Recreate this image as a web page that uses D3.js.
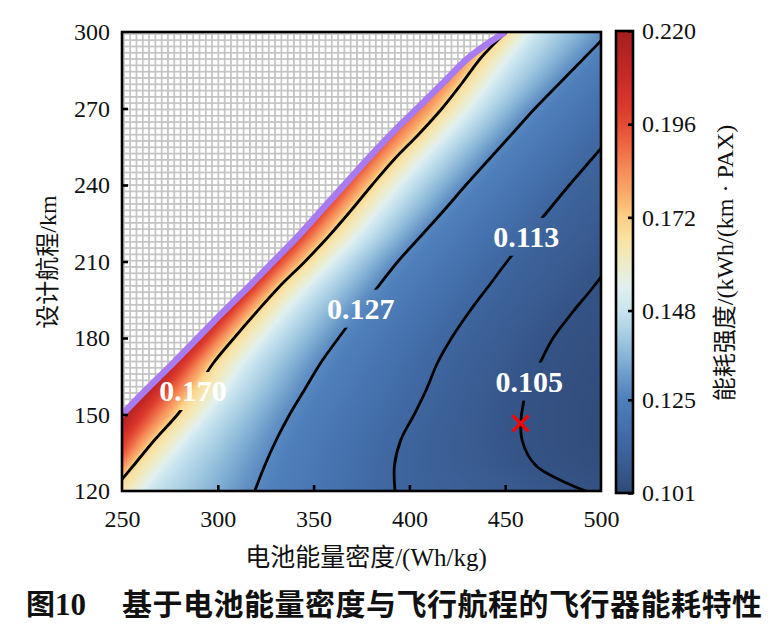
<!DOCTYPE html>
<html><head><meta charset="utf-8">
<script src="https://cdn.jsdelivr.net/npm/d3@7/dist/d3.min.js"></script>
<style>body{margin:0;background:#fff}svg{display:block}</style>
</head><body>
<svg id="chart" width="769" height="638"></svg>
<script>
// ---------------- data ----------------
const batteryTicks = [250, 300, 350, 400, 450, 500];
const rangeTicks = [120, 150, 180, 210, 240, 270, 300];
const colorbarTicks = [0.101, 0.125, 0.148, 0.172, 0.196, 0.220];
const colorbarTickLabels = ["0.101", "0.125", "0.148", "0.172", "0.196", "0.220"];

// design range rows (km) at which the iso-lines were read
const rangeRows = [120,130,140,150,160,170,180,190,200,210,220,230,240,250,260,270,280,290,300];
// feasibility limit (purple line), battery energy density Wh/kg
const limitX = [211,224,237,250,263,276.5,289.5,302.5,316,329,342,354,366,378,390.5,404,417.5,431,450];
// energy intensity on the limit line
const limitValue = [0.26,0.25,0.228,0.219,0.216,0.213,0.210,0.208,0.206,0.204,0.202,0.200,0.198,0.196,0.193,0.190,0.186,0.180,0.172];
// positions of iso-values per row
const level170X = [245,256,267,279,289,297.5,308.5,320,332,345.5,358,369.5,380.5,392,405,417,427.5,437.5,450.5];
const level148X = [266,277,288,299,309,318,329,340,352,365,378,389,400,412,424.5,436.5,447,457,467];
const level127X = [319.3,324.5,330.5,337.5,345.5,353.5,363,373,383.5,394,406,418,429.5,441.5,453.5,465.5,478.5,491.5,504.5];
const level113X = [392.5,392.2,395.5,402.5,409,414.5,422,431,441,451,461.5,472.5,483.5,495,506.5,518,529.5,541,552.5];
const level105X = [492,466,458.8,458.5,461.5,468,475,485,496,506,517,527,537.5,548,558.5,569,579.5,590,600.5];
const level100X = [560,540,530,530,534,540,550,562,574,586,598,610,622,634,646,658,670,682,694];

const contourLabelText = ["0.170", "0.127", "0.113", "0.105"];
const contourLabelX = [287, 374.6, 461, 462.5];
const contourLabelR = [159.2, 191.5, 219.7, 162.9];
const optimumPoint = [458, 146.5];

const colorStopValues = [0.101,0.110,0.118,0.125,0.130,0.136,0.142,0.148,0.154,0.160,0.166,0.172,0.178,0.184,0.190,0.196,0.200,0.208,0.220];
const colorStopColors = ["#2f4a78","#3b5f96","#4470ac","#4f7fba","#6595c6","#86b3d6","#a8cee3","#c9e4ef","#e0f0ef","#eeecc9","#f8e3a6","#fcd086","#f9ab6a","#f68d5a","#ef6a45","#e34c35","#db3a2c","#c82a26","#a31f1f"];

// ---------------- layout ----------------
const svg = d3.select("#chart");
const L = 122, R = 601, T = 32, B = 491;
const x = d3.scaleLinear().domain([250, 500]).range([L, R]);
const y = d3.scaleLinear().domain([120, 300]).range([B, T]);
const color = d3.scaleLinear().domain(colorStopValues).range(colorStopColors).interpolate(d3.interpolateRgb).clamp(true);
const serif = "'Liberation Serif','Times New Roman','Noto Sans CJK SC',serif";

const defs = svg.append("defs");
const cell = 6.3, lw = 1.7;
const pat = defs.append("pattern").attr("id", "hatch").attr("patternUnits", "userSpaceOnUse")
  .attr("width", cell).attr("height", cell).attr("x", L + 1).attr("y", T + 1);
pat.append("rect").attr("width", cell).attr("height", cell).attr("fill", "#c3c3c3");
pat.append("rect").attr("x", lw).attr("y", lw).attr("width", cell - lw).attr("height", cell - lw).attr("fill", "#fff");

defs.append("clipPath").attr("id", "plotClip").append("rect")
  .attr("x", L).attr("y", T).attr("width", R - L).attr("height", B - T);

const curve = d3.curveCatmullRom.alpha(0.5);
const lineGen = d3.line().x(d => x(d[0])).y(d => y(d[1])).curve(curve);
const limitPts = rangeRows.map((r, i) => [limitX[i], r]);
const feasiblePath = lineGen(limitPts) + "L" + x(540) + "," + y(300) + "L" + x(540) + "," + y(110) + "L" + x(limitX[0]) + "," + y(110) + "Z";
defs.append("clipPath").attr("id", "feasClip").append("path").attr("d", feasiblePath);

// ---------------- field ----------------
const levelSets = [
  {xs: limitX, v: limitValue},
  {xs: level170X, v: 0.170},
  {xs: level148X, v: 0.148},
  {xs: level127X, v: 0.127},
  {xs: level113X, v: 0.113},
  {xs: level105X, v: 0.105},
  {xs: level100X, v: 0.100}
];
function fieldAt(xv, rv) {
  let i = d3.bisectRight(rangeRows, rv) - 1;
  i = Math.max(0, Math.min(rangeRows.length - 2, i));
  const t = (rv - rangeRows[i]) / (rangeRows[i + 1] - rangeRows[i]);
  const ks = levelSets.map(S => ({
    x: S.xs[i] + (S.xs[i + 1] - S.xs[i]) * t,
    v: Array.isArray(S.v) ? S.v[i] + (S.v[i + 1] - S.v[i]) * t : S.v
  }));
  if (xv <= ks[0].x) return ks[0].v;
  for (let k = 0; k < ks.length - 1; k++) {
    if (xv <= ks[k + 1].x) {
      const u = (xv - ks[k].x) / (ks[k + 1].x - ks[k].x);
      return ks[k].v + (ks[k + 1].v - ks[k].v) * u;
    }
  }
  return ks[ks.length - 1].v;
}
const W = R - L, H = B - T;
const canvas = document.createElement("canvas");
canvas.width = W; canvas.height = H;
const ctx = canvas.getContext("2d");
const img = ctx.createImageData(W, H);
for (let py = 0; py < H; py++) {
  const rv = y.invert(T + py + 0.5);
  for (let px = 0; px < W; px++) {
    const xv = x.invert(L + px + 0.5);
    const c = d3.rgb(color(fieldAt(xv, rv)));
    const o = (py * W + px) * 4;
    img.data[o] = c.r; img.data[o + 1] = c.g; img.data[o + 2] = c.b; img.data[o + 3] = 255;
  }
}
ctx.putImageData(img, 0, 0);

// hatch background
svg.append("rect").attr("x", L).attr("y", T).attr("width", W).attr("height", H).attr("fill", "url(#hatch)")
  .attr("shape-rendering", "crispEdges");
// heat map
svg.append("g").attr("clip-path", "url(#plotClip)")
  .append("image").attr("x", L).attr("y", T).attr("width", W).attr("height", H)
  .attr("href", canvas.toDataURL()).attr("clip-path", "url(#feasClip)").attr("preserveAspectRatio", "none");

// label mask for contour lines
const mask = defs.append("mask").attr("id", "labelMask").attr("maskUnits", "userSpaceOnUse")
  .attr("x", 0).attr("y", 0).attr("width", 769).attr("height", 638);
mask.append("rect").attr("width", 769).attr("height", 638).attr("fill", "#fff");
contourLabelText.forEach((t, i) => {
  mask.append("rect").attr("x", x(contourLabelX[i]) - 37).attr("y", y(contourLabelR[i]) - 19)
    .attr("width", 74).attr("height", 38).attr("fill", "#000");
});

const contourSets = [level170X, level127X, level113X, level105X];
const cg = svg.append("g").attr("clip-path", "url(#plotClip)").append("g").attr("mask", "url(#labelMask)");
contourSets.forEach((xs, k) => {
  const g = k === 0 ? cg.append("g").attr("clip-path", "url(#feasClip)") : cg;
  g.append("path").attr("d", lineGen(rangeRows.map((r, i) => [xs[i], r])))
    .attr("fill", "none").attr("stroke", "#000").attr("stroke-width", 2.8);
});

// feasibility limit line
svg.append("g").attr("clip-path", "url(#plotClip)").append("path").attr("d", lineGen(limitPts))
  .attr("fill", "none").attr("stroke", "#a87cf0").attr("stroke-width", 6.5);

// contour labels
contourLabelText.forEach((t, i) => {
  svg.append("text").attr("x", x(contourLabelX[i])).attr("y", y(contourLabelR[i]) + 10)
    .attr("text-anchor", "middle").attr("font-family", serif).attr("font-weight", "bold")
    .attr("font-size", 30).attr("fill", "#fff").text(t);
});

// optimum marker
const ox = x(optimumPoint[0]), oy = y(optimumPoint[1]), s = 8;
svg.append("path").attr("d", `M${ox - s},${oy - s}L${ox + s},${oy + s}M${ox - s},${oy + s}L${ox + s},${oy - s}`)
  .attr("stroke", "#ff0000").attr("stroke-width", 3.2).attr("fill", "none");

// axes
const xAxis = d3.axisBottom(x).tickValues(batteryTicks).tickSizeInner(-6).tickSizeOuter(0).tickPadding(19).tickFormat(d3.format("d"));
const yAxis = d3.axisLeft(y).tickValues(rangeTicks).tickSizeInner(-6).tickSizeOuter(0).tickPadding(12).tickFormat(d3.format("d"));
const gx = svg.append("g").attr("transform", `translate(0,${B})`).call(xAxis);
const gy = svg.append("g").attr("transform", `translate(${L},0)`).call(yAxis);
[gx, gy].forEach(g => {
  g.select(".domain").remove();
  g.selectAll(".tick line").attr("stroke", "#000").attr("stroke-width", 2.6);
  g.selectAll(".tick text").attr("font-family", serif).attr("font-size", 24).attr("fill", "#111");
});
gx.selectAll(".tick").filter(d => d === 250 || d === 500).select("line").remove();
gy.selectAll(".tick").filter(d => d === 120 || d === 300).select("line").remove();

// frame
svg.append("rect").attr("x", L).attr("y", T).attr("width", W).attr("height", H)
  .attr("fill", "none").attr("stroke", "#000").attr("stroke-width", 2.6);

// axis titles
svg.append("text").attr("x", 366).attr("y", 566).attr("text-anchor", "middle")
  .attr("font-family", serif).attr("font-size", 25).attr("fill", "#111").text("电池能量密度/(Wh/kg)");
svg.append("text").attr("transform", "translate(56,262) rotate(-90)").attr("text-anchor", "middle")
  .attr("font-family", serif).attr("font-size", 24).attr("fill", "#111").text("设计航程/km");

// colorbar
const cbL = 616, cbW = 17;
const cy = d3.scaleLinear().domain([0.101, 0.220]).range([493, 31]);
const grad = defs.append("linearGradient").attr("id", "cbGrad").attr("x1", 0).attr("y1", 1).attr("x2", 0).attr("y2", 0);
colorStopValues.forEach((v, i) => {
  grad.append("stop").attr("offset", (v - 0.101) / (0.220 - 0.101)).attr("stop-color", colorStopColors[i]);
});
svg.append("rect").attr("x", cbL).attr("y", cy(0.220)).attr("width", cbW).attr("height", cy(0.101) - cy(0.220))
  .attr("fill", "url(#cbGrad)");
const cAxis = d3.axisRight(cy).tickValues(colorbarTicks).tickSizeInner(-5).tickSizeOuter(0).tickPadding(9)
  .tickFormat((d, i) => colorbarTickLabels[i]);
const gc = svg.append("g").attr("transform", `translate(${cbL + cbW},0)`).call(cAxis);
gc.select(".domain").remove();
gc.selectAll(".tick line").attr("stroke", "#000").attr("stroke-width", 2.6);
gc.selectAll(".tick text").attr("font-family", serif).attr("font-size", 24).attr("fill", "#111");
svg.append("rect").attr("x", cbL).attr("y", cy(0.220)).attr("width", cbW).attr("height", cy(0.101) - cy(0.220))
  .attr("fill", "none").attr("stroke", "#000").attr("stroke-width", 2.6);
svg.append("text").attr("transform", "translate(733,263) rotate(-90)").attr("text-anchor", "middle")
  .attr("font-family", serif).attr("font-size", 24).attr("fill", "#111").text("能耗强度/(kWh/(km · PAX)");

// caption
svg.append("text").attr("x", 26).attr("y", 615).attr("font-family", "'Noto Sans CJK SC',sans-serif")
  .attr("font-weight", "bold").attr("font-size", 29).attr("fill", "#111")
  .append("tspan").text("图")
  .append("tspan").attr("font-family", serif).attr("font-size", 31).text("10");
svg.append("text").attr("x", 122).attr("y", 615).attr("font-family", "'Noto Sans CJK SC',sans-serif")
  .attr("font-weight", "bold").attr("font-size", 30).attr("fill", "#111").attr("textLength", 640)
  .attr("lengthAdjust", "spacing").text("基于电池能量密度与飞行航程的飞行器能耗特性");
</script>
</body></html>
